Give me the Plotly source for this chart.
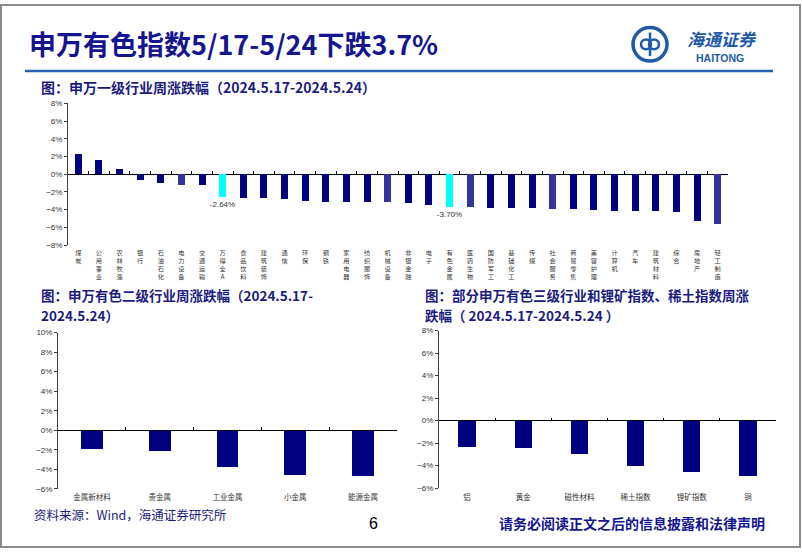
import plotly.graph_objects as go

# 申万一级行业周涨跌幅 (%)
sw1_names = ['煤炭', '公用事业', '农林牧渔', '银行', '石油石化', '电力设备', '交通运输', '万得全A',
             '食品饮料', '建筑装饰', '通信', '环保', '钢铁', '家用电器', '纺织服饰', '机械设备',
             '非银金融', '电子', '有色金属', '医药生物', '国防军工', '基础化工', '传媒', '社会服务',
             '商贸零售', '美容护理', '计算机', '汽车', '建筑材料', '综合', '房地产', '轻工制造']
sw1_chg = [2.19, 1.59, 0.59, -0.67, -1.04, -1.22, -1.26, -2.64,
           -2.70, -2.78, -2.89, -3.04, -3.15, -3.15, -3.19, -3.22,
           -3.30, -3.48, -3.70, -3.74, -3.81, -3.81, -3.89, -4.00,
           -4.00, -4.11, -4.19, -4.22, -4.22, -4.26, -5.30, -5.70]
sw1_highlight = ['万得全A', '有色金属']
sw1_lighter = ['电力设备', '机械设备', '医药生物', '社会服务', '轻工制造']

# 申万有色二级行业周涨跌幅 (%)
sw2_names = ['金属新材料', '贵金属', '工业金属', '小金属', '能源金属']
sw2_chg = [-1.91, -2.11, -3.66, -4.53, -4.60]

# 部分三级行业和锂矿、稀土指数周涨跌幅 (%)
sw3_names = ['铝', '黄金', '磁性材料', '稀土指数', '锂矿指数', '铜']
sw3_chg = [-2.28, -2.39, -2.98, -3.97, -4.50, -4.93]

W, H = 802, 554
NAVY = '#000080'
LIGHT = '#333399'
CYAN = '#00FFFF'
TXT_BLUE = '#1c1c80'
CJK = 'Noto Sans CJK SC'
LAT = 'Liberation Sans, Arial'


def px_x(v):
    return v / W


def px_y(v):
    return 1 - v / H


fig = go.Figure()

charts = [
    dict(names=sw1_names, vals=sw1_chg, xr=(68, 728), yr=(-8, 8), ypx=(245, 101), bw=0.34, vert=True),
    dict(names=sw2_names, vals=sw2_chg, xr=(58, 397), yr=(-6, 10), ypx=(493, 334), bw=0.32, vert=False),
    dict(names=sw3_names, vals=sw3_chg, xr=(439, 776), yr=(-6, 8), ypx=(492, 332), bw=0.31, vert=False),
]

layout_axes = {}
for i, c in enumerate(charts):
    k = i + 1
    xs = '' if k == 1 else str(k)
    xo = str(k + 3)  # overlay axis that carries the boundary ticks on the zero line
    names, vals = c['names'], c['vals']

    if k == 1:
        colors = [CYAN if n in sw1_highlight else LIGHT if n in sw1_lighter else NAVY for n in names]
        texts = [f'{v:.2f}%' if n in sw1_highlight else '' for n, v in zip(names, vals)]
    else:
        colors = [NAVY] * len(names)
        texts = None

    fig.add_trace(go.Bar(
        x=names, y=vals, marker=dict(color=colors, line=dict(width=0)),
        width=c['bw'], text=texts, textposition='outside', constraintext='none',
        textfont=dict(size=8, color='#333333', family=LAT),
        cliponaxis=False, xaxis='x' + xs, yaxis='y' + xs, showlegend=False,
        hoverinfo='skip'))
    fig.add_trace(go.Scatter(
        x=names, y=vals, mode='markers', marker=dict(opacity=0),
        xaxis='x' + xo, yaxis='y' + xs, showlegend=False, hoverinfo='skip'))

    dom_x = [px_x(c['xr'][0]), px_x(c['xr'][1])]
    dom_y = [px_y(c['ypx'][0]), px_y(c['ypx'][1])]
    y0, y1 = c['yr']
    zero_pos = dom_y[0] + (0 - y0) / (y1 - y0) * (dom_y[1] - dom_y[0])
    n = len(names)

    if c['vert']:
        ticktext = ['<br>'.join(list(s)) for s in names]
        lab_size = 6.2
    else:
        ticktext = names
        lab_size = 7.5

    layout_axes['xaxis' + xs] = dict(
        domain=dom_x, anchor='y' + xs, type='category', range=[-0.5, n - 0.5],
        showline=False, showgrid=False, zeroline=False, ticks='',
        tickmode='array', tickvals=names, ticktext=ticktext, tickangle=0,
        tickfont=dict(size=lab_size, color='#333333', family=CJK), ticklabelstandoff=3)
    layout_axes['yaxis' + xs] = dict(
        domain=dom_y, anchor='x' + xs, range=[y0, y1], dtick=2, ticksuffix='%',
        showline=True, linecolor='#404040', linewidth=1, ticks='outside', ticklen=3,
        tickcolor='#404040', showgrid=False, zeroline=True, zerolinecolor='#000000',
        zerolinewidth=1, tickfont=dict(size=8, color='#333333', family=LAT))
    layout_axes['xaxis' + xo] = dict(
        domain=dom_x, overlaying='x' + xs, anchor='free', position=zero_pos,
        type='category', range=[-0.5, n - 0.5], tickson='boundaries', ticks='inside',
        ticklen=3, tickcolor='#000000', showticklabels=False, showline=False,
        showgrid=False, zeroline=False)

fig.update_layout(**layout_axes)


def label(x, y, text, size, color, family=CJK, xanchor='left'):
    return dict(x=px_x(x), y=px_y(y), xref='paper', yref='paper', xanchor=xanchor,
                yanchor='middle', text=text, showarrow=False,
                font=dict(size=size, color=color, family=family))


ann = [
    # slide title
    label(27, 40, '<b>申万有色指数5/17-5/24下跌3.7%</b>', 27, '#15158f'),
    # chart titles
    label(39, 84, '<b>图：申万一级行业周涨跌幅（2024.5.17-2024.5.24）</b>', 14, TXT_BLUE),
    label(39, 296, '<b>图：申万有色二级行业周涨跌幅（2024.5.17-</b>', 13.5, TXT_BLUE),
    label(39, 316, '<b>2024.5.24）</b>', 13.5, TXT_BLUE),
    label(423, 296, '<b>图：部分申万有色三级行业和锂矿指数、稀土指数周涨</b>', 13.5, TXT_BLUE),
    label(423, 316, '<b>跌幅（ 2024.5.17-2024.5.24 ）</b>', 13.5, TXT_BLUE),
    # footer
    label(32, 519, '资料来源：Wind，海通证券研究所', 12.5, TXT_BLUE),
    label(373, 528, '6', 16, '#000000', family=LAT, xanchor='center'),
    label(767, 528, '<b>请务必阅读正文之后的信息披露和法律声明</b>', 14, '#15158f', xanchor='right'),
    # logo text
    label(722, 35, '<i><b>海通证券</b></i>', 17, '#1e5aa8', xanchor='center'),
    label(720, 55, '<b>HAITONG</b>', 10.5, '#1e5aa8', family=LAT, xanchor='center'),
]

shapes = [
    # slide frame
    dict(type='rect', xref='paper', yref='paper', x0=px_x(1), x1=px_x(800), y0=px_y(552), y1=px_y(1),
         line=dict(color='#8c8c8c', width=2), layer='above'),
    # header rule
    dict(type='line', xref='paper', yref='paper', x0=px_x(25), x1=px_x(773), y0=px_y(68), y1=px_y(68),
         line=dict(color='#2a62b0', width=2.5)),
    # logo
    dict(type='circle', xref='paper', yref='paper', x0=px_x(633), x1=px_x(667), y0=px_y(58), y1=px_y(24),
         line=dict(color='#1e5aa8', width=3.5)),
    dict(type='circle', xref='paper', yref='paper', x0=px_x(641), x1=px_x(651), y0=px_y(46), y1=px_y(36),
         line=dict(color='#1e5aa8', width=2.5)),
    dict(type='circle', xref='paper', yref='paper', x0=px_x(649), x1=px_x(659), y0=px_y(46), y1=px_y(36),
         line=dict(color='#1e5aa8', width=2.5)),
    dict(type='line', xref='paper', yref='paper', x0=px_x(650), x1=px_x(650), y0=px_y(53), y1=px_y(29),
         line=dict(color='#1e5aa8', width=2.5)),
]

fig.update_layout(
    width=W, height=H, autosize=False,
    margin=dict(l=0, r=0, t=0, b=0),
    paper_bgcolor='white', plot_bgcolor='white',
    bargap=0, annotations=ann, shapes=shapes,
    font=dict(family=CJK),
)

fig.write_html('out.html', config={'displayModeBar': False},
               post_script="document.body.style.margin='0';document.body.style.overflow='hidden';")
